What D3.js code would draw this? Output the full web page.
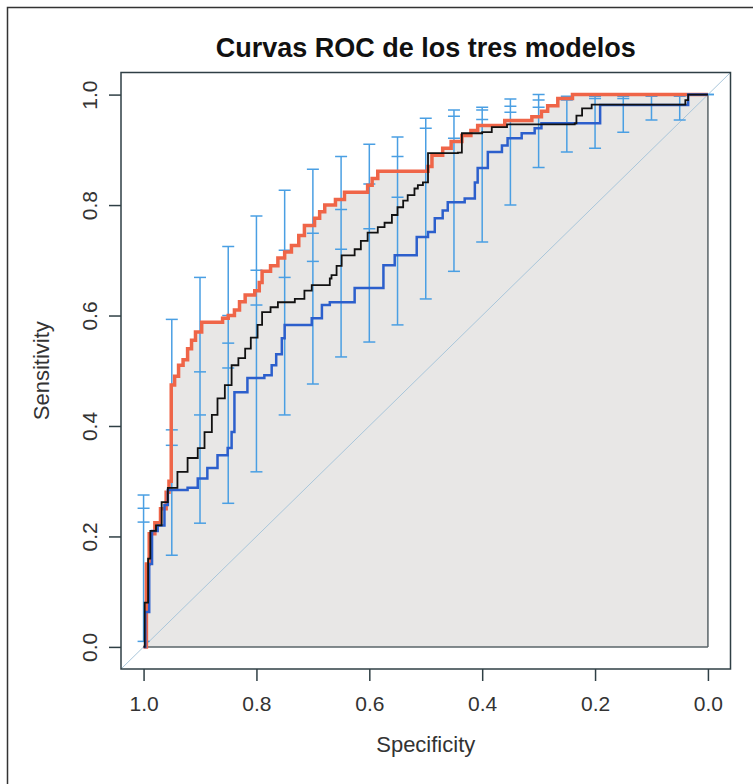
<!DOCTYPE html>
<html>
<head>
<meta charset="utf-8">
<script src="https://cdn.jsdelivr.net/npm/d3@7"></script>
<style>
  body { margin: 0; background: #fff; }
  svg { display: block; font-family: "Liberation Sans", Arial, sans-serif; }
</style>
</head>
<body>
<svg id="chart" width="753" height="784"></svg>
<script>
// ROC curves: [specificity, sensitivity] where sensitivity steps up
const redCurve = [
  [1, 0], [0.995, 0.15], [0.99, 0.205], [0.98, 0.225], [0.97, 0.25], [0.96, 0.28],
  [0.955, 0.30], [0.951, 0.474], [0.945, 0.49], [0.938, 0.51], [0.93, 0.52],
  [0.922, 0.54], [0.915, 0.555], [0.908, 0.57], [0.897, 0.588], [0.86, 0.595],
  [0.85, 0.60], [0.839, 0.61], [0.83, 0.625], [0.82, 0.637], [0.803, 0.645],
  [0.795, 0.66], [0.79, 0.68], [0.775, 0.69], [0.762, 0.704], [0.75, 0.715],
  [0.738, 0.727], [0.725, 0.745], [0.715, 0.763], [0.697, 0.776], [0.688, 0.788],
  [0.679, 0.80], [0.66, 0.81], [0.644, 0.823], [0.603, 0.836], [0.595, 0.848],
  [0.585, 0.861], [0.496, 0.87], [0.489, 0.89], [0.47, 0.903], [0.455, 0.915],
  [0.436, 0.926], [0.42, 0.935], [0.408, 0.944], [0.36, 0.953], [0.312, 0.96],
  [0.295, 0.97], [0.284, 0.98], [0.266, 0.993], [0.24, 1.0], [0, 1.0]
];
const blackCurve = [
  [1, 0], [0.998, 0.08], [0.992, 0.16], [0.988, 0.21], [0.978, 0.22], [0.968, 0.262],
  [0.957, 0.288], [0.94, 0.317], [0.922, 0.342], [0.904, 0.36], [0.892, 0.389],
  [0.879, 0.42], [0.869, 0.45], [0.856, 0.474], [0.844, 0.51], [0.832, 0.523],
  [0.82, 0.54], [0.81, 0.56], [0.798, 0.583], [0.79, 0.606], [0.775, 0.615],
  [0.762, 0.624], [0.732, 0.63], [0.715, 0.645], [0.702, 0.655], [0.67, 0.667],
  [0.667, 0.673], [0.658, 0.69], [0.649, 0.709], [0.626, 0.72], [0.615, 0.735],
  [0.603, 0.75], [0.585, 0.76], [0.573, 0.768], [0.56, 0.782], [0.55, 0.796],
  [0.54, 0.808], [0.532, 0.818], [0.52, 0.83], [0.514, 0.836], [0.505, 0.841],
  [0.496, 0.894], [0.443, 0.895], [0.436, 0.93], [0.4, 0.932], [0.383, 0.941],
  [0.356, 0.946], [0.236, 0.948], [0.233, 0.962], [0.223, 0.975], [0.206, 0.982],
  [0.046, 0.982], [0.04, 0.99], [0.035, 1.0], [0, 1.0]
];
const blueCurve = [
  [1, 0], [0.997, 0.063], [0.99, 0.15], [0.985, 0.21], [0.975, 0.22], [0.963, 0.257],
  [0.957, 0.284], [0.922, 0.288], [0.904, 0.305], [0.887, 0.324], [0.869, 0.347],
  [0.851, 0.36], [0.844, 0.389], [0.839, 0.461], [0.816, 0.487], [0.786, 0.492],
  [0.773, 0.51], [0.765, 0.53], [0.755, 0.559], [0.75, 0.583], [0.702, 0.595],
  [0.684, 0.619], [0.67, 0.624], [0.626, 0.65], [0.575, 0.691], [0.555, 0.709],
  [0.516, 0.742], [0.496, 0.751], [0.484, 0.776], [0.47, 0.79], [0.461, 0.805],
  [0.431, 0.812], [0.413, 0.841], [0.408, 0.867], [0.39, 0.896], [0.365, 0.908],
  [0.355, 0.921], [0.33, 0.93], [0.307, 0.939], [0.295, 0.948], [0.191, 0.981],
  [0.035, 1.0], [0, 1.0]
];

// confidence bars of sensitivity
const barSp  = [1.0, 0.95, 0.9, 0.85, 0.8, 0.75, 0.7, 0.65, 0.6, 0.55, 0.5, 0.45, 0.4, 0.35, 0.3, 0.25, 0.2, 0.15, 0.1, 0.05, 0.0];
const barLo  = [0.01, 0.166, 0.224, 0.26, 0.317, 0.42, 0.476, 0.525, 0.552, 0.583, 0.63, 0.68, 0.733, 0.80, 0.868, 0.896, 0.903, 0.932, 0.954, 0.954, 1.0];
const barHi  = [0.275, 0.593, 0.669, 0.725, 0.78, 0.827, 0.865, 0.888, 0.91, 0.923, 0.957, 0.972, 0.977, 0.992, 1.0, 0.997, 0.997, 0.997, 0.997, 0.997, 1.0];
const barMidA = [0.251, 0.393, 0.498, 0.60, 0.682, 0.718, 0.749, 0.792, 0.838, 0.888, 0.939, 0.961, 0.972, 0.979, 0.99, 0.99, 0.993, 0.993, null, null, null];
const barMidB = [0.226, 0.365, 0.42, 0.55, 0.619, 0.669, 0.698, 0.72, 0.757, 0.814, null, 0.921, 0.955, 0.968, 0.977, null, null, null, null, null, null];
const barMidC = [null, null, null, 0.505, null, null, null, null, null, null, null, null, null, null, null, null, null, null, null, null, null];

const tickVals = [1.0, 0.8, 0.6, 0.4, 0.2, 0.0];

const svg = d3.select("#chart");
const box = {left: 121, right: 730.5, top: 72.5, bottom: 669};

const x = d3.scaleLinear().domain([1.04, -0.04]).range([box.left, box.right]);
const y = d3.scaleLinear().domain([-0.04, 1.04]).range([box.bottom, box.top]);

// outer frame
svg.append("rect")
    .attr("x", 7.5).attr("y", 7.5)
    .attr("width", 770).attr("height", 800)
    .attr("fill", "none").attr("stroke", "#333").attr("stroke-width", 1.5);

svg.append("defs").append("clipPath").attr("id", "clip")
    .append("rect")
    .attr("x", box.left).attr("y", box.top)
    .attr("width", box.right - box.left).attr("height", box.bottom - box.top);

const plot = svg.append("g").attr("clip-path", "url(#clip)");

// auc polygons
const area = d3.area()
    .x(d => x(d[0]))
    .y0(y(0))
    .y1(d => y(d[1]))
    .curve(d3.curveStepAfter);

[redCurve, blackCurve, blueCurve].forEach(c => {
    plot.append("path").attr("d", area(c)).attr("fill", "#e8e7e6");
});

// polygon edges
plot.append("line")
    .attr("x1", x(1)).attr("x2", x(0)).attr("y1", y(0)).attr("y2", y(0))
    .attr("stroke", "#5a6468").attr("stroke-width", 1.5);
plot.append("line")
    .attr("x1", x(0)).attr("x2", x(0)).attr("y1", y(0)).attr("y2", y(1))
    .attr("stroke", "#5a6468").attr("stroke-width", 1.5);

// chance diagonal
plot.append("line")
    .attr("x1", x(1.04)).attr("y1", y(-0.04))
    .attr("x2", x(-0.04)).attr("y2", y(1.04))
    .attr("stroke", "#a9c6da").attr("stroke-width", 1);

// error bars
const barColor = "#4a9fe3";
const capW = 6;
barSp.forEach((sp, i) => {
    const bx = x(sp);
    plot.append("line")
        .attr("x1", bx).attr("x2", bx)
        .attr("y1", y(barLo[i])).attr("y2", y(barHi[i]))
        .attr("stroke", barColor).attr("stroke-width", 1.5);
    [barLo[i], barHi[i], barMidA[i], barMidB[i], barMidC[i]].forEach(v => {
        if (v === null) return;
        plot.append("line")
            .attr("x1", bx - capW).attr("x2", bx + capW)
            .attr("y1", y(v)).attr("y2", y(v))
            .attr("stroke", barColor).attr("stroke-width", 1.5);
    });
});

// roc lines
const line = d3.line()
    .x(d => x(d[0]))
    .y(d => y(d[1]))
    .curve(d3.curveStepAfter);

plot.append("path").attr("d", line(redCurve))
    .attr("fill", "none").attr("stroke", "#ef6548").attr("stroke-width", 3.5);
plot.append("path").attr("d", line(blueCurve))
    .attr("fill", "none").attr("stroke", "#2c5fcc").attr("stroke-width", 2.5);
plot.append("path").attr("d", line(blackCurve))
    .attr("fill", "none").attr("stroke", "#111").attr("stroke-width", 1.8);

// box
svg.append("rect")
    .attr("x", box.left).attr("y", box.top)
    .attr("width", box.right - box.left).attr("height", box.bottom - box.top)
    .attr("fill", "none").attr("stroke", "#2f3f45").attr("stroke-width", 1.5);

// axes
const axisColor = "#2f3f45";
const xAxis = svg.append("g")
    .attr("transform", `translate(0,${box.bottom})`)
    .call(d3.axisBottom(x).tickValues(tickVals).tickFormat(d3.format(".1f")).tickSize(12).tickPadding(15));
xAxis.select(".domain").remove();
xAxis.selectAll("line").attr("stroke", axisColor).attr("stroke-width", 1.5);
xAxis.selectAll("text")
    .attr("fill", "#333")
    .style("font-size", "21px")
    .style("font-family", "'Liberation Sans', Arial, sans-serif");

const yAxis = svg.append("g")
    .attr("transform", `translate(${box.left},0)`)
    .call(d3.axisLeft(y).tickValues(tickVals).tickFormat(d3.format(".1f")).tickSize(12));
yAxis.select(".domain").remove();
yAxis.selectAll("line").attr("stroke", axisColor).attr("stroke-width", 1.5);
yAxis.selectAll("text")
    .attr("x", 0).attr("dy", 0)
    .attr("transform", "translate(-24,0) rotate(-90)")
    .attr("text-anchor", "middle")
    .attr("fill", "#333")
    .style("font-size", "21px")
    .style("font-family", "'Liberation Sans', Arial, sans-serif");

// labels
svg.append("text")
    .attr("x", (box.left + box.right) / 2).attr("y", 57)
    .attr("text-anchor", "middle")
    .style("font-size", "27px").style("font-weight", "bold")
    .attr("fill", "#111")
    .text("Curvas ROC de los tres modelos");

svg.append("text")
    .attr("x", (box.left + box.right) / 2).attr("y", 752)
    .attr("text-anchor", "middle")
    .style("font-size", "22px")
    .attr("fill", "#333")
    .text("Specificity");

svg.append("text")
    .attr("transform", `translate(49,${(box.top + box.bottom) / 2}) rotate(-90)`)
    .attr("text-anchor", "middle")
    .style("font-size", "22px")
    .attr("fill", "#333")
    .text("Sensitivity");
</script>
</body>
</html>
